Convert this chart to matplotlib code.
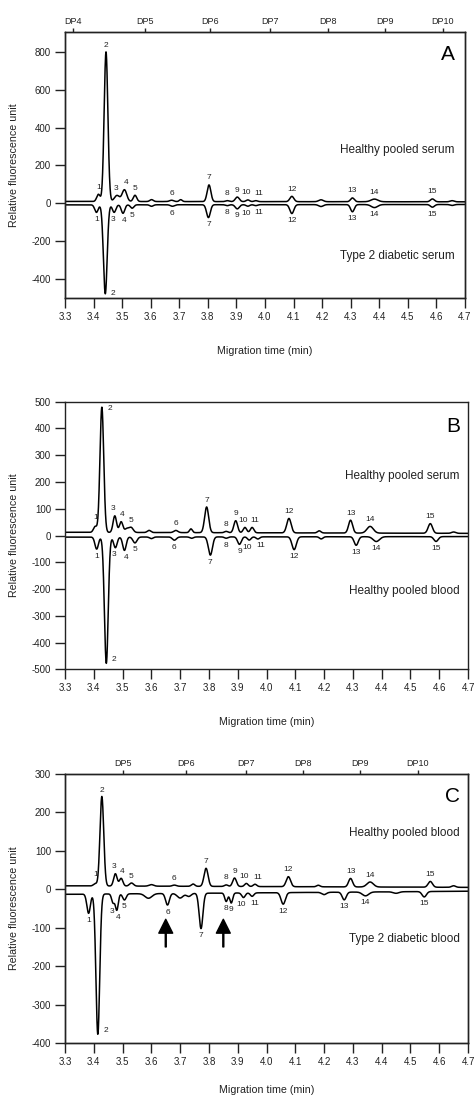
import numpy as np
import matplotlib
matplotlib.use("Agg")
import matplotlib.pyplot as plt

plt.rcParams['font.family'] = ['Liberation Sans', 'DejaVu Sans']
plt.rcParams['axes.unicode_minus'] = False

# ---------------- data ----------------
x_ticks = [3.3, 3.4, 3.5, 3.6, 3.7, 3.8, 3.9, 4.0, 4.1, 4.2, 4.3, 4.4, 4.5, 4.6, 4.7]
peak_numbers = [str(i) for i in range(1, 16)]

# Panel A
dp_labels_A = ['DP4', 'DP5', 'DP6', 'DP7', 'DP8', 'DP9', 'DP10']
dp_pos_A = [3.328, 3.58, 3.8075, 4.0175, 4.2205, 4.42, 4.623]
A_up_base = [10, 8]
A_up_pos = [3.417, 3.4435, 3.482, 3.508, 3.545, 3.673, 3.804, 3.868, 3.903, 3.940, 3.968, 4.094, 4.306, 4.383, 4.586,
            3.603, 3.705, 4.196, 4.655]
A_up_h = [38, 790, 32, 62, 33, 7, 88, 5, 24, 9, 5, 28, 20, 14, 15,
          10, 10, 10, 6]
A_up_w = [0.006, 0.0065, 0.009, 0.008, 0.006, 0.007, 0.0065, 0.006, 0.007, 0.006, 0.006, 0.007, 0.0065, 0.012, 0.007,
          0.006, 0.005, 0.008, 0.007]
A_lo_base = [-8, -6]
A_lo_pos = [3.410, 3.441, 3.472, 3.503, 3.535, 3.676, 3.802, 3.868, 3.903, 3.940, 3.968, 4.094, 4.306, 4.383, 4.586,
            3.603, 4.196, 4.655]
A_lo_h = [-40, -470, -40, -45, -18, -8, -68, -5, -22, -8, -5, -47, -38, -16, -14,
          -8, -10, -5]
A_lo_w = [0.006, 0.0065, 0.006, 0.006, 0.006, 0.007, 0.0065, 0.006, 0.007, 0.006, 0.006, 0.007, 0.0065, 0.011, 0.007,
          0.006, 0.008, 0.007]

# Panel B
B_up_base = [12, 8]
B_up_pos = [3.405, 3.428, 3.473, 3.495, 3.530, 3.685, 3.792, 3.860, 3.893, 3.925, 3.950, 4.078, 4.292, 4.360, 4.569,
            3.592, 3.7375, 4.183, 4.650, 3.515]
B_up_h = [22, 468, 62, 40, 18, 8, 96, 5, 45, 20, 20, 54, 48, 25, 36,
          8, 14, 8, 5, 14]
B_up_w = [0.006, 0.0065, 0.006, 0.006, 0.007, 0.007, 0.007, 0.006, 0.0065, 0.006, 0.006, 0.0075, 0.007, 0.011, 0.0075,
          0.006, 0.005, 0.006, 0.007, 0.007]
B_lo_base = [-6, -4]
B_lo_pos = [3.410, 3.4435, 3.475, 3.5065, 3.543, 3.680, 3.805, 3.860, 3.906, 3.940, 3.970, 4.096, 4.3115, 4.3815, 4.589,
            4.190, 3.600, 3.740]
B_lo_h = [-45, -472, -40, -50, -22, -12, -68, -5, -28, -12, -8, -48, -32, -18, -18,
          -8, -6, -5]
B_lo_w = [0.006, 0.0065, 0.006, 0.006, 0.007, 0.007, 0.007, 0.006, 0.0065, 0.006, 0.006, 0.0075, 0.007, 0.011, 0.0075,
          0.006, 0.006, 0.006]

# Panel C
dp_labels_C = ['DP5', 'DP6', 'DP7', 'DP8', 'DP9', 'DP10']
dp_pos_C = [3.5004, 3.7193, 3.9288, 4.1258, 4.325, 4.5263]
C_up_base = [9, 5]
C_up_pos = [3.405, 3.428, 3.475, 3.495, 3.531, 3.680, 3.790, 3.860, 3.889, 3.930, 3.960, 4.076, 4.292, 4.360, 4.569,
            3.745, 4.180, 4.650, 3.600]
C_up_h = [6, 233, 32, 20, 8, 3, 47, 4, 22, 8, 6, 26, 22, 13, 15,
          6, 4, 4, 4]
C_up_w = [0.006, 0.0065, 0.006, 0.006, 0.007, 0.007, 0.007, 0.006, 0.0065, 0.006, 0.006, 0.0075, 0.007, 0.011, 0.0075,
          0.006, 0.006, 0.007, 0.008]
C_lo_base = [-13, -5]
C_lo_pos = [3.382, 3.414, 3.467, 3.480, 3.5065, 3.656, 3.7725, 3.860, 3.8775, 3.920, 3.950, 4.058, 4.270, 4.344, 4.548,
            3.590, 3.700, 3.730, 4.200, 4.450]
C_lo_h = [-50, -365, -23, -42, -16, -30, -92, -22, -26, -12, -9, -30, -20, -10, -14,
          -12, -12, -8, -6, -4]
C_lo_w = [0.006, 0.0065, 0.005, 0.005, 0.006, 0.0065, 0.0065, 0.005, 0.005, 0.006, 0.006, 0.0075, 0.007, 0.011, 0.0075,
          0.012, 0.010, 0.008, 0.008, 0.010]
arrow_x_C = [3.65, 3.85]
arrow_y_C = [-150, -78]

panels = [
    dict(letter='A', ylim=(-500, 905), yticks=[-400, -200, 0, 200, 400, 600, 800],
         up=(A_up_base, A_up_pos, A_up_h, A_up_w), lo=(A_lo_base, A_lo_pos, A_lo_h, A_lo_w),
         up_name='Healthy pooled serum', lo_name='Type 2 diabetic serum',
         dp=(dp_pos_A, dp_labels_A),
         rect_px=(65, 32, 465, 298), name_y=(0.556, 0.158), letter_y=0.917, right=0.975,
         two_up=(0, 2, 'center', 'bottom'), two_lo=(4, -2, 'left', 'center'), xlabel_y=-0.18),
    dict(letter='B', ylim=(-500, 500), yticks=[-500, -400, -300, -200, -100, 0, 100, 200, 300, 400, 500],
         up=(B_up_base, B_up_pos, B_up_h, B_up_w), lo=(B_lo_base, B_lo_pos, B_lo_h, B_lo_w),
         up_name='Healthy pooled serum', lo_name='Healthy pooled blood',
         dp=None,
         rect_px=(65, 401.7, 468, 669.3), name_y=(0.723, 0.293), letter_y=0.907, right=0.98,
         two_up=(4, -1, 'left', 'center'), two_lo=(4, 0, 'left', 'center'), xlabel_y=-0.18),
    dict(letter='C', ylim=(-400, 300), yticks=[-400, -300, -200, -100, 0, 100, 200, 300],
         up=(C_up_base, C_up_pos, C_up_h, C_up_w), lo=(C_lo_base, C_lo_pos, C_lo_h, C_lo_w),
         up_name='Healthy pooled blood', lo_name='Type 2 diabetic blood',
         dp=(dp_pos_C, dp_labels_C),
         rect_px=(65, 774, 468, 1043), name_y=(0.78, 0.387), letter_y=0.916, right=0.98,
         two_up=(0, 2, 'center', 'bottom'), two_lo=(4, 0, 'left', 'center'), xlabel_y=-0.155),
]

# small horizontal nudges (points) so that neighbouring numbers do not collide
label_dx = {9: -1.5, 10: 2.0, 2: -1.0, 3: 1.0}

W, H = 475, 1095
fig = plt.figure(figsize=(W / 100, H / 100), dpi=100)
t = np.linspace(3.3, 4.7, 4000)


def trace(base, pos, h, w):
    y = np.interp(t, [3.3, 4.7], base)
    for p, a, s in zip(pos, h, w):
        y = y + a * np.exp(-0.5 * ((t - p) / s) ** 2)
    return y


for pnl in panels:
    l, tp, r, b = pnl['rect_px']
    ax = fig.add_axes([l / W, 1 - b / H, (r - l) / W, (b - tp) / H])
    ax.set_xlim(3.3, 4.7)
    ax.set_ylim(*pnl['ylim'])
    ax.set_xticks(x_ticks)
    ax.set_xticklabels([f'{v:.1f}' for v in x_ticks])
    ax.set_yticks(pnl['yticks'])
    ax.tick_params(axis='both', direction='out', length=7, width=1, labelsize=7, pad=3, colors='#222222')
    for sp in ax.spines.values():
        sp.set_linewidth(1.0)
        sp.set_color('#222222')

    for key, sign in (('up', 1), ('lo', -1)):
        base, pos, h, w = pnl[key]
        y = trace(base, pos, h, w)
        ax.plot(t, y, color='black', lw=1.1)
        for k, lab in enumerate(peak_numbers):
            px = pos[k]
            m = np.abs(t - px) < 0.006
            yy = y[m].max() if sign > 0 else y[m].min()
            if k == 1:
                dx, dy, ha, va = pnl['two_up'] if sign > 0 else pnl['two_lo']
                if sign < 0 and va == 'center':
                    va = 'bottom'
            else:
                dx, dy, ha, va = (0, 2.5, 'center', 'bottom') if sign > 0 else (0, -2.5, 'center', 'top')
                dx += label_dx.get(k, 0)
            ax.annotate(lab, (px, yy), xytext=(dx, dy), textcoords='offset points',
                        ha=ha, va=va, fontsize=6, color='#222222')

    ax.text(pnl['right'], pnl['letter_y'], pnl['letter'], transform=ax.transAxes,
            ha='right', va='center', fontsize=15)
    ax.text(pnl['right'], pnl['name_y'][0], pnl['up_name'], transform=ax.transAxes,
            ha='right', va='center', fontsize=8.5, color='#222222')
    ax.text(pnl['right'], pnl['name_y'][1], pnl['lo_name'], transform=ax.transAxes,
            ha='right', va='center', fontsize=8.5, color='#222222')

    ax.set_xlabel('Migration time (min)', fontsize=7.7, color='#222222')
    ax.xaxis.set_label_coords(0.5, pnl['xlabel_y'])
    ax.set_ylabel('Relative fluorescence unit', fontsize=7.7, color='#222222')
    ax.yaxis.set_label_coords(-0.115, 0.5)

    if pnl['dp'] is not None:
        ax2 = ax.twiny()
        ax2.set_xlim(ax.get_xlim())
        ax2.set_xticks(pnl['dp'][0])
        ax2.set_xticklabels(pnl['dp'][1])
        ax2.tick_params(axis='x', direction='out', length=3, width=1, labelsize=6.5, pad=1, colors='#222222')
        for sp in ax2.spines.values():
            sp.set_linewidth(1.0)
            sp.set_color('#222222')

    if pnl['letter'] == 'C':
        for ax_x in arrow_x_C:
            ax.annotate('', xy=(ax_x, arrow_y_C[1]), xytext=(ax_x, arrow_y_C[0]),
                        arrowprops=dict(width=0.7, headwidth=10, headlength=10,
                                        facecolor='black', edgecolor='black'))

fig.savefig('out.png', dpi=100)
